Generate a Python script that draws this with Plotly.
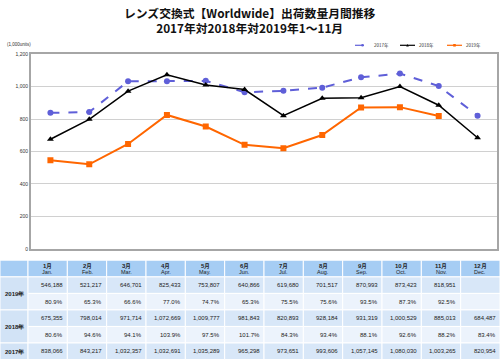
import plotly.graph_objects as go

months_jp = ["1月", "2月", "3月", "4月", "5月", "6月", "7月", "8月", "9月", "10月", "11月", "12月"]
months_en = ["Jan.", "Feb.", "Mar.", "Apr.", "May.", "Jun.", "Jul.", "Aug.", "Sep.", "Oct.", "Nov.", "Dec."]

units_2017 = [838066, 843217, 1032357, 1032691, 1035289, 965298, 973651, 993606, 1057145, 1080030, 1003265, 820954]
units_2018 = [675355, 798014, 971714, 1072669, 1009777, 981843, 820893, 928184, 931319, 1000529, 885013, 684487]
units_2019 = [546188, 521217, 646701, 825433, 753807, 640866, 619680, 701517, 870993, 873423, 818951]
pct_2019 = [80.9, 65.3, 66.6, 77.0, 74.7, 65.3, 75.5, 75.6, 93.5, 87.3, 92.5]
pct_2018 = [80.6, 94.6, 94.1, 103.9, 97.5, 101.7, 84.3, 93.4, 88.1, 92.6, 88.2, 83.4]
series_names = ["2017年", "2018年", "2019年"]

W, H = 500, 363
FONT = "Liberation Sans, Arial, sans-serif"
JFONT = "Noto Sans CJK JP, sans-serif"
C17, C18, C19 = "#5f5fd8", "#000000", "#ff6600"

def px(x):
    return x / W

def py(y):
    return 1 - y / H

fig = go.Figure()

styles = [
    (units_2017, dict(color=C17, width=2, dash="dash"), dict(symbol="circle", size=6, color=C17)),
    (units_2018, dict(color=C18, width=1.5), dict(symbol="triangle-up", size=6, color=C18)),
    (units_2019, dict(color=C19, width=2), dict(symbol="square", size=6, color=C19)),
]
for name, (vals, line, marker) in zip(series_names, styles):
    fig.add_trace(go.Scatter(
        x=months_jp[:len(vals)], y=[v / 1000 for v in vals], name=name,
        mode="lines+markers", line=line, marker=marker, showlegend=False))

shapes = []
annots = []

# ---------- manual legend ----------
leg_x = [355, 400, 447]
leg_y = 43
leg_marks = ["circle", "triangle", "square"]
for name, lx, (vals, line, marker), mk in zip(series_names, leg_x, styles, leg_marks):
    shapes.append(dict(type="line", xref="paper", yref="paper", x0=px(lx), x1=px(lx + 15),
                       y0=py(leg_y), y1=py(leg_y),
                       line=dict(color=line["color"], width=1.2, dash="dash" if "dash" in line else "solid")))
    cx = lx + 7.5
    r = 1.3
    if mk == "circle":
        shapes.append(dict(type="circle", xref="paper", yref="paper", x0=px(cx - r), x1=px(cx + r),
                           y0=py(leg_y + r), y1=py(leg_y - r), fillcolor=line["color"], line=dict(width=0)))
    elif mk == "square":
        shapes.append(dict(type="rect", xref="paper", yref="paper", x0=px(cx - r), x1=px(cx + r),
                           y0=py(leg_y + r), y1=py(leg_y - r), fillcolor=line["color"], line=dict(width=0)))
    else:
        path = f"M {px(cx - r)} {py(leg_y + r)} L {px(cx + r)} {py(leg_y + r)} L {px(cx)} {py(leg_y - r)} Z"
        shapes.append(dict(type="path", xref="paper", yref="paper", path=path,
                           fillcolor=line["color"], line=dict(width=0)))
    annots.append(dict(text=name, x=px(lx + 17), y=py(leg_y), xanchor="left", yanchor="middle",
                       xref="paper", yref="paper", showarrow=False,
                       font=dict(family=JFONT, size=4.5, color="#333")))

# ---------- manual table ----------
HEAD_BG = "#a6cdf4"
VAL_BG = "#d8e7f8"
PCT_BG = "#ecf3fc"
LAB_BG = "#d2e3f6"
WHITE = "#ffffff"

col_x = [0, 28] + [28 + (500 - 28) / 12 * (i + 1) for i in range(12)]
top = 261.5
head_h = 17.0
row_h = (362.5 - top - head_h) / 5
row_y = [top + head_h + row_h * k for k in range(6)]
row_bg = [VAL_BG, PCT_BG, VAL_BG, PCT_BG, VAL_BG]

def rect(x0, x1, y0, y1, fill):
    shapes.append(dict(type="rect", xref="paper", yref="paper", layer="below",
                       x0=px(x0), x1=px(x1), y0=py(y1), y1=py(y0),
                       fillcolor=fill, line=dict(color=WHITE, width=1)))

def text(t, x, y, anchor="center", size=6, bold=False):
    annots.append(dict(text=f"<b>{t}</b>" if bold else t, x=px(x), y=py(y), xanchor=anchor, yanchor="middle",
                       xref="paper", yref="paper", showarrow=False,
                       font=dict(family=FONT, size=size, color="#222")))

# header row
rect(col_x[0], col_x[1], top, top + head_h, HEAD_BG)
for i in range(12):
    xa, xb = col_x[i + 1], col_x[i + 2]
    rect(xa, xb, top, top + head_h, HEAD_BG)
    xc = (xa + xb) / 2
    text(months_jp[i], xc, top + 5.5, bold=True, size=6)
    text(months_en[i], xc, top + 12, size=5.5)

# label column (merged)
groups = [("2019年", 0, 2), ("2018年", 2, 4), ("2017年", 4, 5)]
for lab, r0, r1 in groups:
    rect(col_x[0], col_x[1], row_y[r0], row_y[r1], LAB_BG)
    text(lab, 14, (row_y[r0] + row_y[r1]) / 2, bold=True, size=6)

def fmt(v):
    return f"{v:,}"

def pfmt(v):
    return f"{v:.1f}%"

row_texts = [
    [fmt(v) for v in units_2019],
    [pfmt(v) for v in pct_2019],
    [fmt(v) for v in units_2018],
    [pfmt(v) for v in pct_2018],
    [fmt(v) for v in units_2017],
]
for r in range(5):
    for i in range(12):
        xa, xb = col_x[i + 1], col_x[i + 2]
        rect(xa, xb, row_y[r], row_y[r + 1], row_bg[r])
        if i < len(row_texts[r]):
            text(row_texts[r][i], xb - 2.5, (row_y[r] + row_y[r + 1]) / 2, anchor="right", size=6)

# ---------- titles ----------
annots.append(dict(text="<b>レンズ交換式【Worldwide】出荷数量月間推移</b><br><b>2017年対2018年対2019年1～11月</b>",
                   x=0.5, y=py(17.5), xref="paper", yref="paper", showarrow=False, yanchor="middle",
                   font=dict(family=JFONT, size=11.8, color="#111")))
annots.append(dict(text="(1,000units)", x=px(5), y=py(42), xanchor="left", yanchor="middle",
                   xref="paper", yref="paper", showarrow=False,
                   font=dict(family=FONT, size=4.5, color="#333")))

fig.update_layout(
    width=W, height=H,
    margin=dict(l=0, r=0, t=0, b=0),
    paper_bgcolor="white", plot_bgcolor="white",
    showlegend=False,
    xaxis=dict(domain=[px(31), px(497)], type="category", categoryorder="array", categoryarray=months_jp,
               range=[-0.5, 11.5], showticklabels=False, ticks="", showgrid=False,
               showline=True, linecolor="#a6a6a6", linewidth=2, mirror=True, zeroline=False),
    yaxis=dict(domain=[py(250), py(52)], range=[0, 1200], dtick=200, tickformat=",",
               showgrid=True, gridcolor="#d0d0d0", gridwidth=1, zeroline=False,
               showline=True, linecolor="#a6a6a6", linewidth=2, mirror=True,
               ticks="", tickfont=dict(family=FONT, size=5, color="#333")),
    shapes=shapes,
    annotations=annots,
)

fig.write_html("out.html", config={"displayModeBar": False},
               post_script="document.body.style.margin='0';document.body.style.overflow='hidden';")
